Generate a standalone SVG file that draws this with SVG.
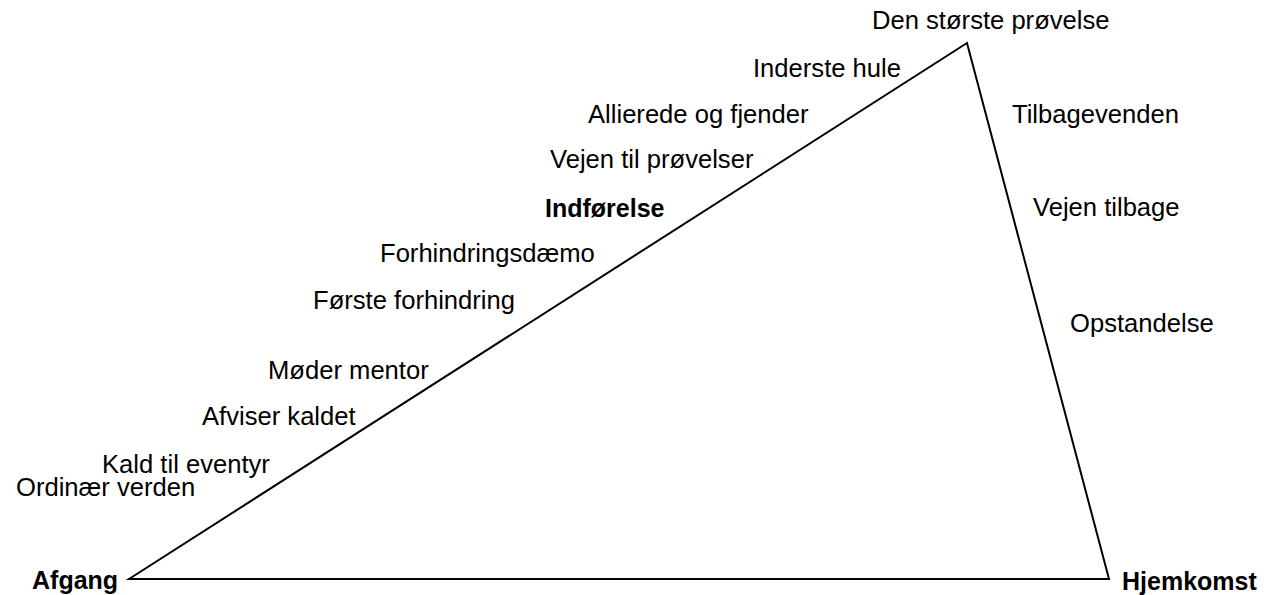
<svg xmlns="http://www.w3.org/2000/svg" width="1277" height="595" viewBox="0 0 1277 595">
  <style>
    .lbl { font-family: "Liberation Sans", Arial, sans-serif; font-size: 25.6px; fill: #000; }
    .bold { font-weight: bold; font-size: 25px; }
    .edge { fill: none; stroke: #000; stroke-width: 2; stroke-linejoin: miter; }
  </style>
  <rect width="1277" height="595" fill="#fff"/>
  <!-- journey outline -->
  <g id="connectors">
    <polygon class="edge" points="129,579 967,43 1109,579"/>
  </g>
  <!-- stage labels, rising side -->
  <g id="afgang"><text class="lbl bold" x="32" y="589">Afgang</text></g>
  <g id="ordinaer-verden"><text class="lbl" x="16" y="496">Ordinær verden</text></g>
  <g id="kald-til-eventyr"><text class="lbl" x="102" y="473">Kald til eventyr</text></g>
  <g id="afviser-kaldet"><text class="lbl" x="202" y="425">Afviser kaldet</text></g>
  <g id="moder-mentor"><text class="lbl" x="268" y="379">Møder mentor</text></g>
  <g id="forste-forhindring"><text class="lbl" x="313" y="309">Første forhindring</text></g>
  <g id="forhindringsdaemo"><text class="lbl" x="380" y="262">Forhindringsdæmo</text></g>
  <g id="indforelse"><text class="lbl bold" x="545" y="217">Indførelse</text></g>
  <g id="vejen-til-provelser"><text class="lbl" x="550" y="168">Vejen til prøvelser</text></g>
  <g id="allierede-og-fjender"><text class="lbl" x="588" y="123">Allierede og fjender</text></g>
  <g id="inderste-hule"><text class="lbl" x="753" y="77">Inderste hule</text></g>
  <g id="den-storste-provelse"><text class="lbl" x="872" y="29">Den største prøvelse</text></g>
  <!-- stage labels, falling side -->
  <g id="tilbagevenden"><text class="lbl" x="1012" y="123">Tilbagevenden</text></g>
  <g id="vejen-tilbage"><text class="lbl" x="1033" y="216">Vejen tilbage</text></g>
  <g id="opstandelse"><text class="lbl" x="1070" y="332">Opstandelse</text></g>
  <g id="hjemkomst"><text class="lbl bold" x="1122" y="590">Hjemkomst</text></g>
</svg>
